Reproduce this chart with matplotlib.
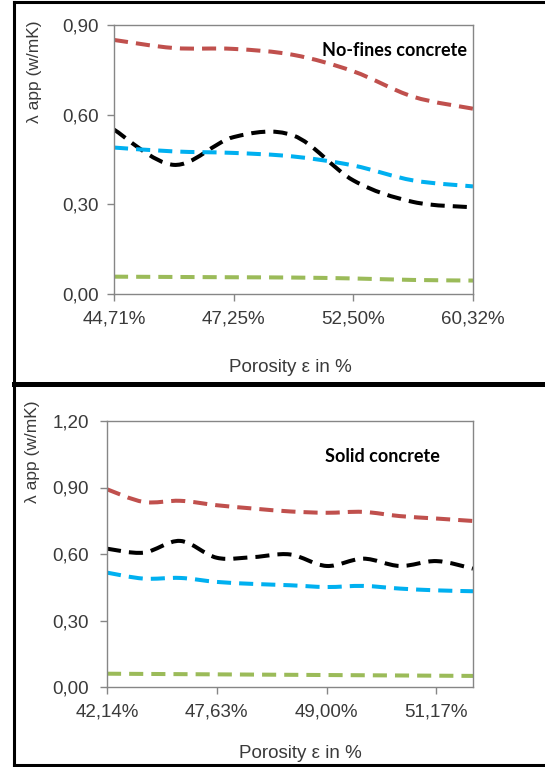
import matplotlib
matplotlib.use('Agg')

from matplotlib import pyplot as plt
from matplotlib.path import Path
from matplotlib.patches import PathPatch
from matplotlib.lines import Line2D

import numpy as np

plt.rcParams['font.family'] = ['Liberation Sans', 'DejaVu Sans']

W, H = 545, 767

# No-fines concrete (top panel)
top_ticks = ['44,71%', '47,25%', '52,50%', '60,32%']
top_red = [0.85, 0.823, 0.82, 0.80, 0.745, 0.66, 0.62]
top_black = [0.55, 0.432, 0.525, 0.53, 0.38, 0.308, 0.29]
top_blue = [0.49, 0.477, 0.472, 0.46, 0.43, 0.38, 0.36]
top_green = [0.058, 0.057, 0.056, 0.055, 0.052, 0.047, 0.045]

# Solid concrete (bottom panel)
bot_ticks = ['42,14%', '47,63%', '49,00%', '51,17%']
bot_red = [0.892, 0.835, 0.84, 0.82, 0.805, 0.792, 0.786, 0.79, 0.771, 0.76, 0.749]
bot_black = [0.624, 0.606, 0.659, 0.583, 0.586, 0.598, 0.546, 0.579, 0.546, 0.568, 0.534]
bot_blue = [0.516, 0.489, 0.492, 0.474, 0.465, 0.459, 0.451, 0.456, 0.444, 0.436, 0.432]
bot_green = [0.060, 0.059, 0.058, 0.057, 0.056, 0.055, 0.054, 0.053, 0.052, 0.051, 0.050]

COLORS = {'red': '#C0504D', 'black': '#000000', 'blue': '#00B0F0', 'green': '#9BBB59'}
GRAY = '#868686'
TXT = '#3a3a3a'


def smooth_path(y):
    # Excel-like smoothed line: Catmull-Rom segments as cubic Bezier
    y = np.asarray(y, dtype=float)
    x = np.arange(len(y), dtype=float)
    pts = np.column_stack([x, y])
    ext = np.vstack([pts[0], pts, pts[-1]])
    verts = [tuple(pts[0])]
    codes = [Path.MOVETO]
    for i in range(len(pts) - 1):
        p0, p1, p2, p3 = ext[i], ext[i + 1], ext[i + 2], ext[i + 3]
        c1 = p1 + (p2 - p0) / 6.0
        c2 = p2 - (p3 - p1) / 6.0
        verts += [tuple(c1), tuple(c2), tuple(p2)]
        codes += [Path.CURVE4] * 3
    return Path(verts, codes)


def panel(ax, series, ticks, step, ymax, note, note_xy):
    n = len(series[0][1])
    for name, vals in series:
        pp = PathPatch(smooth_path(vals), fill=False, edgecolor=COLORS[name],
                       linewidth=2.9, linestyle=(0, (3.5, 2.0)),
                       capstyle='butt')
        ax.add_patch(pp)
    ax.set_xlim(0, n - 1)
    ax.set_ylim(0, ymax)
    ax.set_xticks(np.arange(0, n, step))
    ax.set_xticklabels(ticks)
    yt = np.arange(0, ymax + 0.001, 0.3)
    ax.set_yticks(yt)
    ax.set_yticklabels(['{:.2f}'.format(v).replace('.', ',') for v in yt])
    for s in ax.spines.values():
        s.set_color(GRAY)
        s.set_linewidth(1.0)
    ax.tick_params(direction='out', length=5, width=1, color=GRAY,
                   labelsize=13.5, labelcolor=TXT)
    ax.tick_params(axis='x', pad=7)
    ax.text(note_xy[0], note_xy[1], note, transform=ax.transAxes,
            fontsize=13, fontweight='bold', family=['Lato', 'DejaVu Sans'],
            ha='center', va='center', color='#000000')


def main():
    fig = plt.figure(figsize=(W / 100, H / 100), dpi=100)

    ax1 = fig.add_axes([114 / W, 1 - 294 / H, (473 - 114) / W, (294 - 25) / H])
    panel(ax1, [('red', top_red), ('black', top_black), ('blue', top_blue),
                ('green', top_green)], top_ticks, 2, 0.9,
          'No-fines concrete', ((394 - 114) / 359, (294 - 50) / 269))
    ax1.tick_params(axis='y', pad=6)

    ax2 = fig.add_axes([107 / W, 1 - 687 / H, (473 - 107) / W, (687 - 421) / H])
    panel(ax2, [('red', bot_red), ('black', bot_black), ('blue', bot_blue),
                ('green', bot_green)], bot_ticks, 3, 1.2,
          'Solid concrete', ((382 - 107) / 366, (687 - 456) / 266))
    ax2.tick_params(axis='y', pad=8)

    # axis titles
    fig.text(35 / W, 1 - 72 / H, u'\u03bb app (w/mK)', rotation=90,
             ha='center', va='center', fontsize=12.5, color=TXT)
    fig.text(33 / W, 1 - 452 / H, u'\u03bb app (w/mK)', rotation=90,
             ha='center', va='center', fontsize=12.5, color=TXT)
    fig.text(290 / W, 1 - 368 / H, u'Porosity \u03b5 in %',
             ha='center', va='center', fontsize=13.5, color=TXT)
    fig.text(300 / W, 1 - 753 / H, u'Porosity \u03b5 in %',
             ha='center', va='center', fontsize=13.5, color=TXT)

    # outer frames
    def fline(x0, y0, x1, y1, lw):
        fig.add_artist(Line2D([x0 / W, x1 / W], [1 - y0 / H, 1 - y1 / H],
                              transform=fig.transFigure, color='black',
                              linewidth=lw, solid_capstyle='projecting'))

    fline(14, 2, W + 5, 2, 2.2)
    fline(14, 2, 14, 765, 2.2)
    fline(14, 384, W + 5, 384, 3.6)
    fline(14, 765, W + 5, 765, 2.2)

    fig.savefig('out.png', dpi=100)


if __name__ == '__main__':
    main()
